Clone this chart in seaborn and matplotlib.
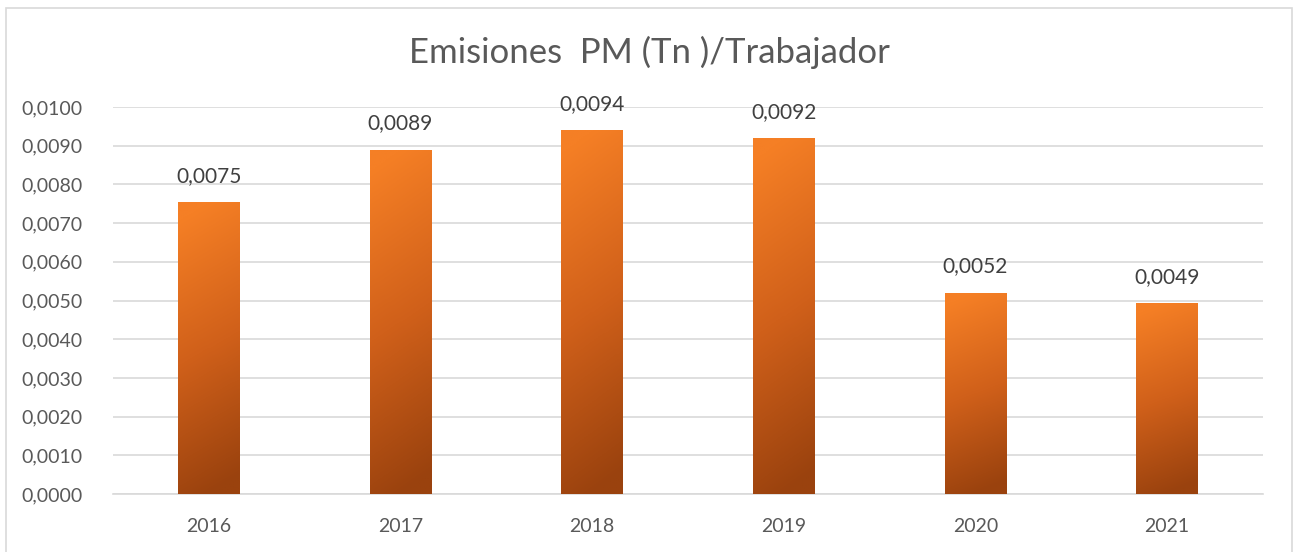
import numpy as np
import pandas as pd
import matplotlib
matplotlib.use("Agg")
import matplotlib.pyplot as plt
import seaborn as sns
from matplotlib.colors import LinearSegmentedColormap
from matplotlib.patches import Rectangle

# Data
years = ["2016", "2017", "2018", "2019", "2020", "2021"]
emisiones = [0.00754, 0.0089, 0.0094, 0.0092, 0.0052, 0.00494]

df = pd.DataFrame({"year": years, "value": emisiones})

sns.set_style("white")
plt.rcParams['font.family'] = ['Lato', 'DejaVu Sans']
txt = "#595959"

fig = plt.figure(figsize=(12.98, 5.52), dpi=100)
ax = fig.add_axes([0.087, 0.105, 0.886, 0.701])

sns.barplot(x="year", y="value", data=df, color="#F47C22", width=0.32, ax=ax, zorder=3)

# orange -> brown gradient inside each bar
cmap = LinearSegmentedColormap.from_list("grad", ["#9A420E", "#D0601A", "#F57F25"])
grad = np.linspace(0, 1, 256).reshape(-1, 1)
grad = grad + np.linspace(0.06, -0.06, 32).reshape(1, -1)
for bar in ax.patches:
    x0, y0 = bar.get_x(), bar.get_y()
    w, h = bar.get_width(), bar.get_height()
    im = ax.imshow(grad, cmap=cmap, vmin=0, vmax=1, origin="lower", aspect="auto",
                   extent=[x0, x0 + w, y0, y0 + h], zorder=3)
    im.set_clip_path(bar)
    bar.set_alpha(0)
    ax.text(x0 + w / 2, y0 + h + 0.00042, f"{h:.4f}".replace(".", ","),
            ha="center", va="bottom", fontsize=15, color="#404040", zorder=4)

ax.set_xlim(-0.5, len(years) - 0.5)
ax.set_ylim(0, 0.01)
ax.set_yticks(np.arange(0, 0.0101, 0.001))
ax.set_yticklabels([f"{v:.4f}".replace(".", ",") for v in np.arange(0, 0.0101, 0.001)])
ax.yaxis.grid(True, color="#D9D9D9", linewidth=1.2, zorder=0)
ax.set_axisbelow(True)
for s in ["top", "right", "left"]:
    ax.spines[s].set_visible(False)
ax.spines["bottom"].set_color("#D9D9D9")
ax.spines["bottom"].set_linewidth(1.2)
ax.tick_params(axis="both", length=0, labelsize=14, labelcolor=txt)
ax.tick_params(axis="y", pad=22)
ax.tick_params(axis="x", pad=17)
ax.set_xlabel("")
ax.set_ylabel("")

fig.text(0.5, 0.905, "Emisiones  PM (Tn )/Trabajador", ha="center", va="center",
         fontsize=25, color=txt)

# chart frame
fig.patches.append(Rectangle((6 / 1298, -0.01), 1286 / 1298, 1 - 8 / 552 + 0.01,
                             transform=fig.transFigure, fill=False,
                             edgecolor="#D9D9D9", linewidth=1.2))

fig.savefig("out.png", dpi=100)
